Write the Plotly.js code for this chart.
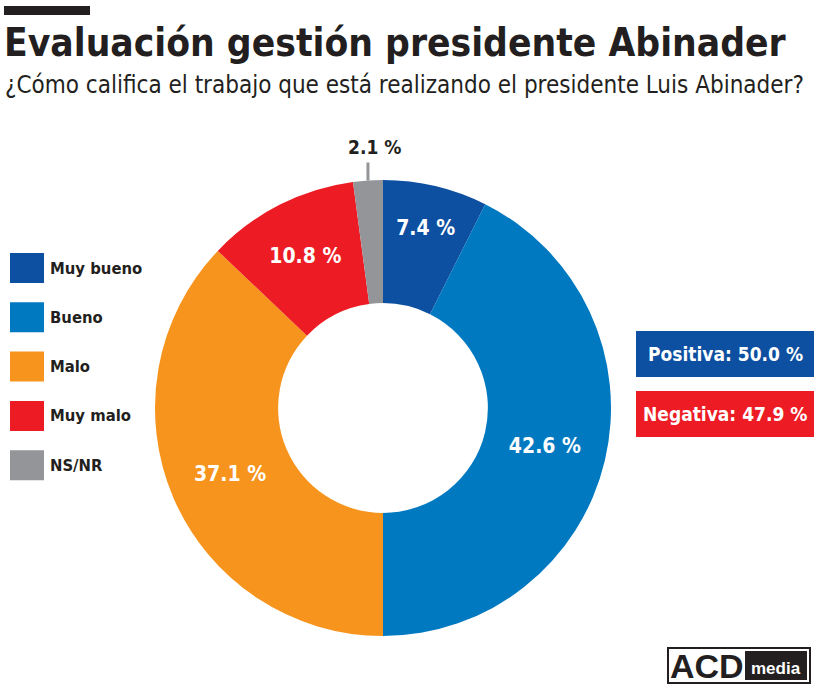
<!DOCTYPE html>
<html>
<head>
<meta charset="utf-8">
<script src="https://cdn.plot.ly/plotly-3.0.1.min.js"></script>
<style>
html,body{margin:0;padding:0;background:#fff;}
#chart{width:826px;height:692px;}
</style>
</head>
<body>
<div id="chart"></div>
<script>
// ---- DATA ----
var categories = ["Muy bueno", "Bueno", "Malo", "Muy malo", "NS/NR"];
var values = [7.4, 42.6, 37.1, 10.8, 2.1];
var colors = ["#0d4fa0", "#0079c1", "#f7941d", "#ed1c24", "#939598"];
var summaryLabels = ["Positiva", "Negativa"];
var summaryValues = [50.0, 47.9];
var summaryColors = ["#0d4fa0", "#ed1c24"];
var titleText = "Evaluación gestión presidente Abinader";
var subtitleText = "¿Cómo califica el trabajo que está realizando el presidente Luis Abinader?";

var W = 826, H = 692;
var cx = 383, cy = 408, R = 228;
var dom = {x: [(cx - R) / W, (cx + R) / W], y: [1 - (cy + R) / H, 1 - (cy - R) / H]};
var dark = "#231f20";
var condB = "'DejaVu Sans Condensed', 'DejaVu Sans', sans-serif";

function fmt(v) { return v.toFixed(1) + " %"; }

// inside text for all but the tiny last slice (drawn outside with a leader line)
var sliceText = values.map(function (v, i) { return i === values.length - 1 ? "" : fmt(v); });

var trace = {
  type: "pie",
  labels: categories,
  values: values,
  marker: {colors: colors, line: {width: 0}},
  hole: 0.46,
  sort: false,
  direction: "clockwise",
  rotation: 0,
  text: sliceText,
  textinfo: "text",
  textposition: "inside",
  insidetextorientation: "horizontal",
  insidetextfont: {family: condB, size: 21, color: "#ffffff", weight: "bold"},
  hoverinfo: "label+percent",
  domain: dom,
  showlegend: false
};

var shapes = [];
var annotations = [];

// top black bar
shapes.push({type: "rect", xref: "paper", yref: "paper",
  x0: 4 / W, x1: 90 / W, y0: 1 - 15 / H, y1: 1 - 6 / H,
  fillcolor: "#231f20", line: {width: 0}});

// title + subtitle
annotations.push({xref: "paper", yref: "paper", x: 2 / W, y: 1 - 18 / H, xanchor: "left", yanchor: "top",
  text: "<b>" + titleText + "</b>", showarrow: false,
  font: {family: condB, size: 38.6, color: dark}});
annotations.push({xref: "paper", yref: "paper", x: 3 / W, y: 1 - 69 / H, xanchor: "left", yanchor: "top",
  text: subtitleText, showarrow: false,
  font: {family: condB, size: 24, color: dark}});

// legend (custom, built from data arrays)
categories.forEach(function (c, i) {
  var yc = 268 + i * 49.3;
  shapes.push({type: "rect", xref: "paper", yref: "paper",
    x0: 10 / W, x1: 44 / W, y0: 1 - (yc + 15) / H, y1: 1 - (yc - 15) / H,
    fillcolor: colors[i], line: {width: 0}});
  annotations.push({xref: "paper", yref: "paper", x: 48 / W, y: 1 - yc / H,
    xanchor: "left", yanchor: "middle", text: "<b>" + c + "</b>", showarrow: false,
    font: {family: condB, size: 16.5, color: dark}});
});

// summary boxes
summaryLabels.forEach(function (s, i) {
  var y0 = 331 + i * 60, y1 = y0 + 46;
  shapes.push({type: "rect", xref: "paper", yref: "paper",
    x0: 636 / W, x1: 814 / W, y0: 1 - y1 / H, y1: 1 - y0 / H,
    fillcolor: summaryColors[i], line: {width: 0}});
  annotations.push({xref: "paper", yref: "paper", x: 725 / W, y: 1 - (y0 + 23) / H,
    xanchor: "center", yanchor: "middle", text: "<b>" + s + ": " + fmt(summaryValues[i]) + "</b>",
    showarrow: false, font: {family: condB, size: 19, color: "#ffffff"}});
});

// outside label for last slice with leader line, angle computed from data
var total = values.reduce(function (a, b) { return a + b; }, 0);
var last = values.length - 1;
var before = values.slice(0, last).reduce(function (a, b) { return a + b; }, 0);
var midFrac = (before + values[last] / 2) / total;
var ang = midFrac * 2 * Math.PI; // clockwise from top
var px = cx + Math.sin(ang) * R, py = cy - Math.cos(ang) * R;
var ly = py - 18;
shapes.push({type: "line", xref: "paper", yref: "paper",
  x0: px / W, y0: 1 - py / H, x1: px / W, y1: 1 - ly / H,
  line: {color: "#939598", width: 3}});
annotations.push({xref: "paper", yref: "paper", x: (px + 7) / W, y: 1 - (ly - 2) / H,
  xanchor: "center", yanchor: "bottom", text: "<b>" + fmt(values[last]) + "</b>", showarrow: false,
  font: {family: condB, size: 19, color: dark}});

// logo
shapes.push({type: "rect", xref: "paper", yref: "paper",
  x0: 668 / W, x1: 810 / W, y0: 1 - 683 / H, y1: 1 - 648 / H,
  fillcolor: "#ffffff", line: {color: "#231f20", width: 2}});
shapes.push({type: "rect", xref: "paper", yref: "paper",
  x0: 745 / W, x1: 807 / W, y0: 1 - 680 / H, y1: 1 - 651 / H,
  fillcolor: "#231f20", line: {width: 0}});
annotations.push({xref: "paper", yref: "paper", x: 707 / W, y: 1 - 665.5 / H,
  xanchor: "center", yanchor: "middle", text: "<b>ACD</b>", showarrow: false,
  font: {family: "'Liberation Sans', Arial, sans-serif", size: 34, color: "#231f20"}});
annotations.push({xref: "paper", yref: "paper", x: 776 / W, y: 1 - 668 / H,
  xanchor: "center", yanchor: "middle", text: "<b>media</b>", showarrow: false,
  font: {family: "'Liberation Sans', Arial, sans-serif", size: 17, color: "#ffffff"}});

var layout = {
  width: W, height: H,
  margin: {l: 0, r: 0, t: 0, b: 0},
  paper_bgcolor: "#ffffff",
  plot_bgcolor: "#ffffff",
  showlegend: false,
  shapes: shapes,
  annotations: annotations
};

Plotly.newPlot("chart", [trace], layout, {displayModeBar: false, staticPlot: true});
</script>
</body>
</html>
